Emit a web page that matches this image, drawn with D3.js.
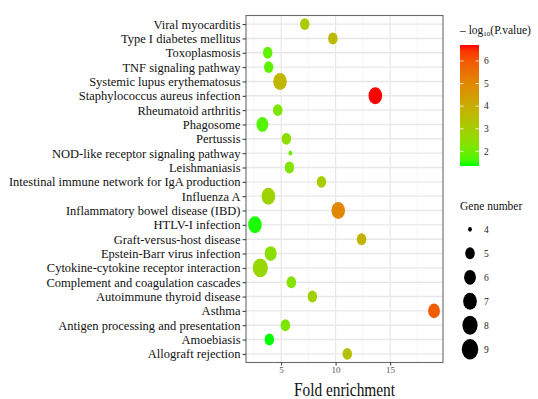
<!DOCTYPE html>
<html>
<head>
<meta charset="utf-8">
<script src="https://cdn.jsdelivr.net/npm/d3@7/dist/d3.min.js"></script>
<style>
    body { margin: 0; background: #ffffff; }
    svg  { display: block; font-family: "Liberation Serif", "Times New Roman", serif; }
</style>
</head>
<body>
<svg id="chart" width="538" height="399"></svg>
<script>
// pathways, top to bottom
var pathways = [
    'Viral myocarditis',
    'Type I diabetes mellitus',
    'Toxoplasmosis',
    'TNF signaling pathway',
    'Systemic lupus erythematosus',
    'Staphylococcus aureus infection',
    'Rheumatoid arthritis',
    'Phagosome',
    'Pertussis',
    'NOD-like receptor signaling pathway',
    'Leishmaniasis',
    'Intestinal immune network for IgA production',
    'Influenza A',
    'Inflammatory bowel disease (IBD)',
    'HTLV-I infection',
    'Graft-versus-host disease',
    'Epstein-Barr virus infection',
    'Cytokine-cytokine receptor interaction',
    'Complement and coagulation cascades',
    'Autoimmune thyroid disease',
    'Asthma',
    'Antigen processing and presentation',
    'Amoebiasis',
    'Allograft rejection'
];

// fold enrichment
var fold_enrichment = [7.17, 9.75, 3.77, 3.86, 4.90, 13.64, 4.69, 3.28, 5.48, 5.85, 5.76, 8.70,
                       3.83, 10.24, 2.60, 12.38, 4.04, 3.09, 5.94, 7.87, 19.03, 5.39, 3.92, 11.07];

// gene number
var gene_number = [5, 5, 5, 5, 7, 7, 5, 6, 5, 4, 5, 5,
                   7, 7, 7, 5, 6, 8, 5, 5, 6, 5, 5, 5];

// -log10(p value)
var log_p = [3.0, 3.6, 1.8, 1.8, 3.7, 6.71, 2.2, 1.7, 2.5, 2.0, 2.3, 3.0,
             2.8, 5.0, 1.4, 3.8, 2.4, 2.7, 2.3, 2.9, 5.9, 2.2, 1.35, 3.4];

// legend keys
var x_ticks = [5, 10, 15];
var size_keys = [4, 5, 6, 7, 8, 9];

// layout
var panel = {left: 246, right: 443, top: 15.5, bottom: 362.5};
var svg = d3.select('#chart');

// x scale with 5% padding
var x_min = d3.min(fold_enrichment), x_max = d3.max(fold_enrichment);
var x_pad = (x_max - x_min) * 0.05;
var x = d3.scaleLinear()
    .domain([x_min - x_pad, x_max + x_pad])
    .range([panel.left, panel.right]);

// y scale
var y = d3.scalePoint()
    .domain(pathways)
    .range([panel.top, panel.bottom])
    .padding(0.6);

// colour scale
var p_min = d3.min(log_p), p_max = d3.max(log_p);
var colour = d3.scaleLinear()
    .domain([p_min, p_max])
    .range(['#00ff00', '#ff0000'])
    .interpolate(d3.interpolateLab);

// size scale (area based)
var size_min = d3.min(size_keys), size_max = d3.max(size_keys);
var size = d3.scalePow().exponent(0.5)
    .domain([0, size_max - size_min])
    .range([2.4, 10.3]);
function radius(n) { return size(n - size_min); }
var squash = 0.8;

// panel background
svg.append('rect')
    .attr('x', panel.left).attr('y', panel.top)
    .attr('width', panel.right - panel.left)
    .attr('height', panel.bottom - panel.top)
    .attr('fill', '#ffffff');

// minor vertical grid
var minor = x.ticks(8).filter(function(v) { return x_ticks.indexOf(v) < 0; });
minor = [2.5, 7.5, 12.5, 17.5].filter(function(v) { return v > x.domain()[0] && v < x.domain()[1]; });
svg.append('g').selectAll('line').data(minor).join('line')
    .attr('x1', x).attr('x2', x)
    .attr('y1', panel.top).attr('y2', panel.bottom)
    .attr('stroke', '#f2f2f2').attr('stroke-width', 0.7);

// major vertical grid
svg.append('g').selectAll('line').data(x_ticks).join('line')
    .attr('x1', x).attr('x2', x)
    .attr('y1', panel.top).attr('y2', panel.bottom)
    .attr('stroke', '#e8e8e8').attr('stroke-width', 1.2);

// horizontal grid
svg.append('g').selectAll('line').data(pathways).join('line')
    .attr('x1', panel.left).attr('x2', panel.right)
    .attr('y1', y).attr('y2', y)
    .attr('stroke', '#e8e8e8').attr('stroke-width', 1.4);

// points
var rows = pathways.map(function(name, i) {
    return {name: name, fold: fold_enrichment[i], genes: gene_number[i], p: log_p[i]};
});
svg.append('g').selectAll('ellipse').data(rows).join('ellipse')
    .attr('cx', function(d) { return x(d.fold); })
    .attr('cy', function(d) { return y(d.name); })
    .attr('rx', function(d) { return radius(d.genes) * squash; })
    .attr('ry', function(d) { return radius(d.genes); })
    .attr('fill', function(d) { return colour(d.p); });

// panel border
svg.append('rect')
    .attr('x', panel.left).attr('y', panel.top)
    .attr('width', panel.right - panel.left)
    .attr('height', panel.bottom - panel.top)
    .attr('fill', 'none')
    .attr('stroke', '#6b6b6b').attr('stroke-width', 1.1);

// y axis
var y_axis = svg.append('g')
    .attr('transform', 'translate(' + panel.left + ',0)')
    .call(d3.axisLeft(y).tickSize(3.5).tickPadding(2));
y_axis.select('.domain').remove();
y_axis.selectAll('line').attr('stroke', '#333333');
y_axis.selectAll('text')
    .attr('font-family', '"Liberation Serif", serif')
    .attr('font-size', 12.5)
    .attr('fill', '#111111');

// x axis
var x_axis = svg.append('g')
    .attr('transform', 'translate(0,' + panel.bottom + ')')
    .call(d3.axisBottom(x).tickValues(x_ticks).tickSize(3).tickPadding(1));
x_axis.select('.domain').remove();
x_axis.selectAll('line').attr('stroke', '#333333');
x_axis.selectAll('text')
    .attr('font-family', '"Liberation Serif", serif')
    .attr('font-size', 9)
    .attr('fill', '#555555');

// x title
svg.append('text')
    .attr('transform', 'translate(' + ((panel.left + panel.right) / 2) + ',396) scale(0.81,1)')
    .attr('text-anchor', 'middle')
    .attr('font-size', 19)
    .attr('fill', '#111111')
    .text('Fold enrichment');

// colour legend title
var c_title = svg.append('text')
    .attr('x', 460).attr('y', 34)
    .attr('font-size', 11.5)
    .attr('fill', '#111111');
c_title.append('tspan').text('\u2013 log');
c_title.append('tspan').attr('font-size', 7).attr('dy', 2).text('10');
c_title.append('tspan').attr('dy', -2).text('(P.value)');

// colour bar
var bar = {x: 460, w: 19, top: 45, bottom: 166};
var bar_y = d3.scaleLinear().domain([p_min, p_max]).range([bar.bottom, bar.top]);
var gradient = svg.append('defs').append('linearGradient')
    .attr('id', 'pgrad')
    .attr('x1', 0).attr('y1', 1).attr('x2', 0).attr('y2', 0);
gradient.selectAll('stop').data(d3.range(0, 1.0001, 0.05)).join('stop')
    .attr('offset', function(t) { return t; })
    .attr('stop-color', function(t) { return colour(p_min + t * (p_max - p_min)); });
svg.append('rect')
    .attr('x', bar.x).attr('y', bar.top)
    .attr('width', bar.w).attr('height', bar.bottom - bar.top)
    .attr('fill', 'url(#pgrad)');

// colour bar ticks
var bar_ticks = bar_y.ticks(5);
svg.append('g').selectAll('line').data(bar_ticks.concat(bar_ticks)).join('line')
    .attr('x1', function(d, i) { return i < bar_ticks.length ? bar.x : bar.x + bar.w - 3.5; })
    .attr('x2', function(d, i) { return i < bar_ticks.length ? bar.x + 3.5 : bar.x + bar.w; })
    .attr('y1', bar_y).attr('y2', bar_y)
    .attr('stroke', '#ffffff').attr('stroke-width', 0.8);
svg.append('g').selectAll('text').data(bar_ticks).join('text')
    .attr('x', 484).attr('y', function(d) { return bar_y(d) + 3.3; })
    .attr('font-size', 9.5)
    .attr('fill', '#222222')
    .text(function(d) { return d; });

// size legend
svg.append('text')
    .attr('x', 460).attr('y', 210)
    .attr('font-size', 11.5)
    .attr('fill', '#111111')
    .text('Gene number');
var key_y = d3.scalePoint().domain(size_keys).range([229.3, 349.3]);
var keys = svg.append('g').selectAll('g').data(size_keys).join('g')
    .attr('transform', function(d) { return 'translate(470,' + key_y(d) + ')'; });
keys.append('ellipse')
    .attr('rx', function(d) { return radius(d) * squash; })
    .attr('ry', function(d) { return radius(d); })
    .attr('fill', '#000000');
keys.append('text')
    .attr('x', 14).attr('y', 3.3)
    .attr('font-size', 9.5)
    .attr('fill', '#222222')
    .text(function(d) { return d; });
</script>
</body>
</html>
